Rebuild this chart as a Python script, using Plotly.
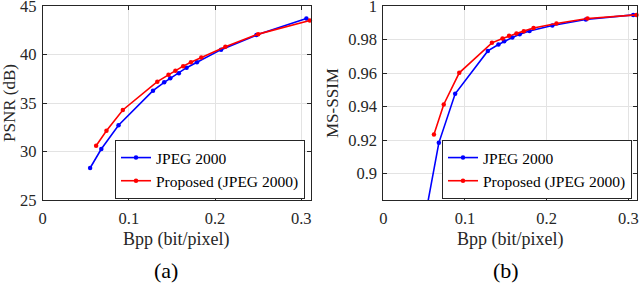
import plotly.graph_objects as go

# Data
bpp_jpeg = [0.055, 0.068, 0.088, 0.128, 0.141, 0.148, 0.158, 0.167, 0.179, 0.207, 0.248, 0.306]
psnr_jpeg = [28.3, 30.26, 32.7, 36.27, 37.13, 37.55, 38.06, 38.64, 39.2, 40.5, 42.0, 43.7]
ssim_jpeg = [0.8841, 0.9183, 0.9476, 0.9732, 0.977, 0.9789, 0.9812, 0.9832, 0.9851, 0.9884, 0.9919, 0.9947]

bpp_prop = [0.062, 0.074, 0.093, 0.133, 0.146, 0.154, 0.163, 0.172, 0.184, 0.212, 0.25, 0.31]
psnr_prop = [30.6, 32.14, 34.28, 37.2, 37.9, 38.33, 38.8, 39.2, 39.7, 40.8, 42.1, 43.5]
ssim_prop = [0.9233, 0.9412, 0.9601, 0.978, 0.9806, 0.9822, 0.9836, 0.985, 0.9869, 0.9896, 0.9925, 0.9947]

x_ticks = [0, 0.1, 0.2, 0.3]
x_ticktext = ["0", "0.1", "0.2", "0.3"]
psnr_ticks = [25, 30, 35, 40, 45]
ssim_ticks = [0.9, 0.92, 0.94, 0.96, 0.98, 1.0]
ssim_ticktext = ["0.9", "0.92", "0.94", "0.96", "0.98", "1"]

FONT = "Liberation Serif, Times New Roman, Times, serif"
BLUE = "#0000ff"
RED = "#ff0000"

fig = go.Figure()

def add(x, y, name, color, xa, ya, leg, show=True):
    fig.add_trace(go.Scatter(
        x=x, y=y, name=name, mode="lines+markers",
        line=dict(color=color, width=1.6),
        marker=dict(color=color, size=4.5, symbol="circle"),
        xaxis=xa, yaxis=ya, legend=leg, showlegend=show, cliponaxis=False))

add(bpp_jpeg, psnr_jpeg, "JPEG 2000", BLUE, "x", "y", "legend")
add(bpp_prop, psnr_prop, "Proposed (JPEG 2000)", RED, "x", "y", "legend")
add(bpp_jpeg, ssim_jpeg, "JPEG 2000", BLUE, "x2", "y2", "legend2")
add(bpp_prop, ssim_prop, "Proposed (JPEG 2000)", RED, "x2", "y2", "legend2")

W, H = 640, 283
ytop = 1 - 6 / H
ybot = 1 - 200 / H

axis_common = dict(
    showline=True, linecolor="#262626", linewidth=1, mirror="ticks",
    ticks="inside", ticklen=4, tickcolor="#262626",
    showgrid=True, gridcolor="#e3e3e3", gridwidth=1, zeroline=False,
    tickfont=dict(family=FONT, size=16.5, color="#262626"),
    ticklabeloverflow="allow", automargin=False,
)

legend_common = dict(
    xanchor="right", yanchor="bottom",
    bgcolor="white", bordercolor="#262626", borderwidth=1,
    font=dict(family=FONT, size=15.5, color="black"),
    tracegroupgap=0, itemwidth=30,
)

def ann(text, x, y, size, angle=0, color="#262626"):
    return dict(text=text, x=x / W, y=1 - y / H, xref="paper", yref="paper",
                xanchor="center", yanchor="middle", showarrow=False, textangle=angle,
                font=dict(family=FONT, size=size, color=color))

fig.update_layout(
    width=W, height=H,
    margin=dict(l=0, r=0, t=0, b=0, autoexpand=False),
    paper_bgcolor="white", plot_bgcolor="white",
    font=dict(family=FONT, size=17, color="#262626"),
    xaxis=dict(domain=[42.7 / W, 310.7 / W], range=[0, 0.311], anchor="y",
               tickvals=x_ticks, ticktext=x_ticktext, ticklabelstandoff=3, **axis_common),
    yaxis=dict(domain=[ybot, ytop], range=[25, 45], anchor="x",
               tickvals=psnr_ticks, ticklabelstandoff=2, **axis_common),
    xaxis2=dict(domain=[383.3 / W, 637.3 / W], range=[0, 0.311], anchor="y2",
                tickvals=x_ticks, ticktext=x_ticktext, ticklabelstandoff=3, **axis_common),
    yaxis2=dict(domain=[ybot, ytop], range=[0.8842, 1.0], anchor="x2",
                tickvals=ssim_ticks, ticktext=ssim_ticktext, ticklabelstandoff=2, **axis_common),
    legend=dict(x=305 / W, y=ybot + 1 / H, **legend_common),
    legend2=dict(x=632 / W, y=ybot + 1 / H, **legend_common),
    annotations=[
        ann("Bpp (bit/pixel)", 176, 239, 18),
        ann("Bpp (bit/pixel)", 510, 239, 18),
        ann("PSNR (dB)", 10, 103, 17, -90),
        ann("MS-SSIM", 333, 103, 17, -90),
        ann("(a)", 166, 270, 22, 0, "black"),
        ann("(b)", 506, 270, 22, 0, "black"),
    ],
)

fig.write_html("out.html", config={"displayModeBar": False},
               post_script="document.body.style.margin='0';")
